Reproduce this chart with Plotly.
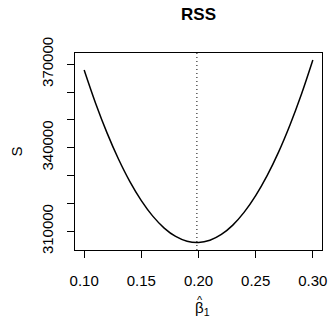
import plotly.graph_objects as go

# Data
beta1 = [0.10, 0.11, 0.12, 0.13, 0.14, 0.15, 0.16, 0.17, 0.18, 0.19, 0.20,
         0.21, 0.22, 0.23, 0.24, 0.25, 0.26, 0.27, 0.28, 0.29, 0.30]
rss = [367900, 355980, 345330, 335950, 327840, 321010, 315450, 311170, 308160, 306430, 305970,
       306790, 308880, 312240, 316880, 322800, 329980, 338440, 348180, 359190, 371480]
beta_hat = 0.1986

x_ticks = [0.10, 0.15, 0.20, 0.25, 0.30]
x_ticktext = ["0.10", "0.15", "0.20", "0.25", "0.30"]
y_ticks = [310000, 340000, 370000]
y_ticktext = ["310000", "340000", "370000"]
y_minor = [320000, 330000, 350000, 360000]

FONT = "Liberation Sans, Arial, Helvetica, sans-serif"
H = 321
PLOT_TOP, PLOT_BOTTOM = 53, 250

fig = go.Figure()
fig.add_trace(go.Scatter(x=beta1, y=rss, mode="lines",
                         line=dict(color="black", width=1.5, shape="spline"),
                         showlegend=False, hoverinfo="skip"))
fig.add_vline(x=beta_hat, line=dict(color="black", width=1, dash="1px,3px"))

# x-axis label: beta with hat and subscript 1
fig.add_annotation(text="β<sub>1</sub>", xref="paper", yref="paper", x=0.5, y=0,
                   xanchor="center", yanchor="middle", yshift=-(308 - PLOT_BOTTOM),
                   xshift=4, showarrow=False, font=dict(size=15, family=FONT, color="black"))
fig.add_annotation(text="^", xref="paper", yref="paper", x=0.5, y=0,
                   xanchor="center", yanchor="middle", yshift=-(300 - PLOT_BOTTOM),
                   xshift=1, showarrow=False, font=dict(size=11, family=FONT, color="black"))

fig.update_layout(
    width=333, height=H,
    margin=dict(l=75, r=6, t=PLOT_TOP, b=H - PLOT_BOTTOM),
    paper_bgcolor="white", plot_bgcolor="white",
    font=dict(family=FONT, size=15, color="black"),
    title=dict(text="<b>RSS</b>", x=0.5, xref="paper", xanchor="center",
               y=1 - 14 / H, yref="container", yanchor="middle",
               font=dict(size=17, family=FONT, color="black")),
    showlegend=False,
)
fig.update_xaxes(range=[0.092, 0.308], tickvals=x_ticks, ticktext=x_ticktext,
                 ticks="outside", ticklen=7, tickwidth=1, tickcolor="black",
                 showline=True, linecolor="black", linewidth=1, mirror=True,
                 showgrid=False, zeroline=False, ticklabelstandoff=10,
                 tickfont=dict(size=15))
fig.update_yaxes(range=[303300, 374000], tickvals=y_ticks, ticktext=y_ticktext,
                 tickangle=-90, tickfont=dict(size=15),
                 ticks="outside", ticklen=7, tickwidth=1, tickcolor="black",
                 minor=dict(tickvals=y_minor, ticks="outside", ticklen=7, tickwidth=1,
                            tickcolor="black", showgrid=False),
                 showline=True, linecolor="black", linewidth=1, mirror=True,
                 showgrid=False, zeroline=False, ticklabelstandoff=8,
                 title=dict(text="S", standoff=12, font=dict(size=15, family=FONT)))

fig.write_html("out.html")
